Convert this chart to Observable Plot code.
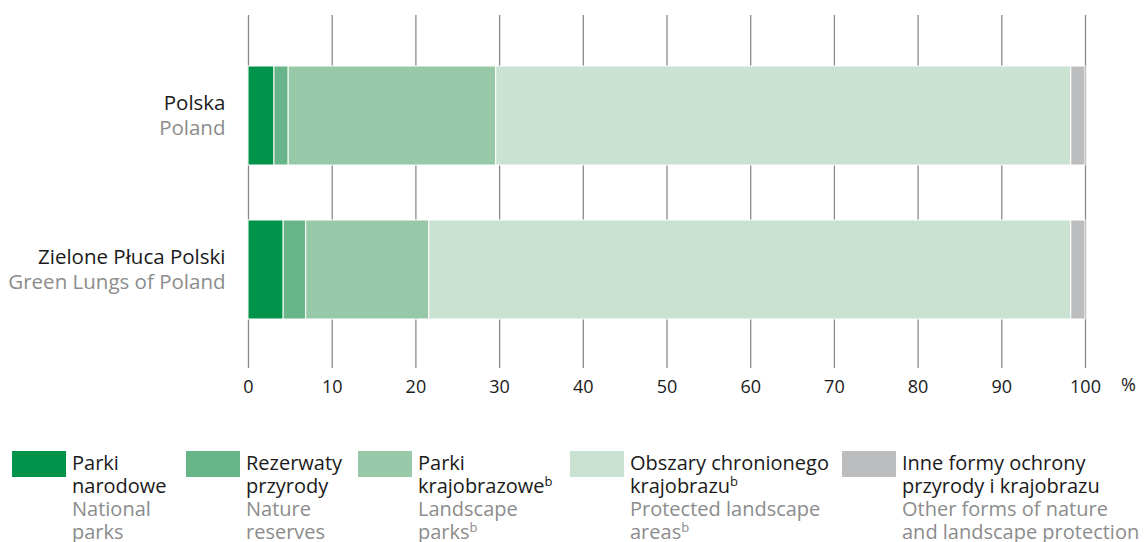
<!DOCTYPE html>
<html><head><meta charset="utf-8">
<script src="https://cdn.jsdelivr.net/npm/d3@7"></script>
<script src="https://cdn.jsdelivr.net/npm/@observablehq/plot@0.6"></script>
<style>
body{margin:0;background:#fff;font-family:"Open Sans",sans-serif;}
#wrap{position:relative;width:1146px;height:542px;overflow:hidden;}
#legend{position:absolute;left:0;top:451px;width:1146px;}
.item{position:absolute;top:0;}
.sw{position:absolute;left:0;top:0;width:54px;height:26px;}
.tx{position:absolute;left:60px;top:0px;font-size:20px;line-height:23px;white-space:nowrap;}
.tx div{height:23px;}
.pl{color:#1a1a1a}.en{color:#8c8c8c}
sup{font-size:13px;vertical-align:7px;line-height:0}
</style></head><body>
<div id="wrap"><div id="chart"></div><div id="legend"></div></div>
<script>
const regionsPl = ["Polska", "Zielone Płuca Polski"];
const regionsEn = ["Poland", "Green Lungs of Poland"];
const seriesKeys = ["Parki narodowe","Rezerwaty przyrody","Parki krajobrazowe","Obszary chronionego krajobrazu","Inne formy ochrony przyrody i krajobrazu"];
const seriesPl = [["Parki","narodowe"],["Rezerwaty","przyrody"],["Parki","krajobrazowe<sup>b</sup>"],["Obszary chronionego","krajobrazu<sup>b</sup>"],["Inne formy ochrony","przyrody i krajobrazu"]];
const seriesEn = [["National","parks"],["Nature","reserves"],["Landscape","parks<sup>b</sup>"],["Protected landscape","areas<sup>b</sup>"],["Other forms of nature","and landscape protection"]];
const colors = ["#00934a","#67b588","#97c8a7","#c9e2d2","#bcbdbf"];
const valuesPolska = [3.1, 1.7, 24.8, 68.7, 1.7];
const valuesZPP = [4.2, 2.7, 14.7, 76.7, 1.7];
const xTicks = [0,10,20,30,40,50,60,70,80,90,100];

const data = [];
seriesKeys.forEach((k,i)=>{
  data.push({region: regionsPl[0], series: k, value: valuesPolska[i]});
  data.push({region: regionsPl[1], series: k, value: valuesZPP[i]});
});
const labels = regionsPl.map((r,i)=>({region:r, pl:r, en:regionsEn[i]}));

const chart = Plot.plot({
  width: 1146, height: 410,
  marginLeft: 248, marginRight: 61, marginTop: 17, marginBottom: 42,
  style: {fontFamily: '"Open Sans", sans-serif', fontSize: "18px", color: "#1a1a1a", background: "#fff"},
  x: {domain: [0,100], ticks: xTicks, tickSize: 0, tickPadding: 12, label: null},
  y: {domain: regionsPl, paddingInner: 0.36, paddingOuter: 0.316, axis: null},
  color: {domain: seriesKeys, range: colors},
  marks: [
    Plot.ruleX(xTicks, {stroke: "#8a8a8a", strokeWidth: 1.3, insetTop: -2}),
    Plot.barX(data, Plot.stackX({x: "value", y: "region", fill: "series", order: seriesKeys, stroke: "#fff", strokeWidth: 1})),
    Plot.axisX({ticks: xTicks, tickSize: 0, tickPadding: 12, fontSize: 18, label: null, color:"#1a1a1a"}),
    Plot.text(["%"], {x: () => 100, frameAnchor: "bottom", dx: 43, dy: 22, fontSize: 18, fill: "#1a1a1a"}),
    Plot.text(labels, {y: "region", text: "pl", frameAnchor: "left", textAnchor: "end", dx: -23, dy: -13, fontSize: 20.5, fill: "#1a1a1a"}),
    Plot.text(labels, {y: "region", text: "en", frameAnchor: "left", textAnchor: "end", dx: -23, dy: 12, fontSize: 20.5, fill: "#8c8c8c"})
  ]
});
document.getElementById("chart").appendChild(chart);

const lx = [12, 186, 358, 570, 842];
const leg = document.getElementById("legend");
seriesKeys.forEach((k,i)=>{
  const d = document.createElement("div");
  d.className = "item"; d.style.left = lx[i] + "px";
  d.innerHTML = `<div class="sw" style="background:${colors[i]}"></div><div class="tx"><div class="pl">${seriesPl[i][0]}</div><div class="pl">${seriesPl[i][1]}</div><div class="en">${seriesEn[i][0]}</div><div class="en">${seriesEn[i][1]}</div></div>`;
  leg.appendChild(d);
});
</script></body></html>
